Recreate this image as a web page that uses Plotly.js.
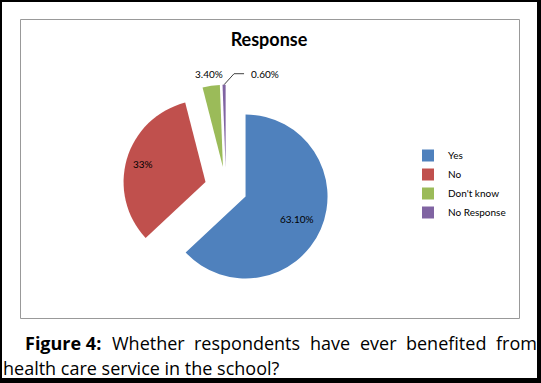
<!DOCTYPE html>
<html>
<head>
<meta charset="utf-8">
<script src="https://cdn.plot.ly/plotly-3.0.1.min.js"></script>
<style>html,body{margin:0;padding:0;background:#fff;}#chart{width:541px;height:383px;}</style>
</head>
<body>
<div id="chart"></div>
<script>
// ---- data ----
var labels = ['Yes', 'No', "Don't know", 'No Response'];
var values = [63.1, 33, 3.4, 0.6];
var pctText = ['63.10%', '33%', '3.40%', '0.60%'];
var colors = ['#4F81BD', '#C0504D', '#9BBB59', '#8064A2'];
var chartTitle = 'Response';
var captionLine1 = ['<b>Figure 4:</b>', 'Whether', 'respondents', 'have', 'ever', 'benefited', 'from'];
var captionLine2 = 'health care service in the school?';

// ---- layout helpers ----
var W = 541, H = 383;
function px(x) { return x / W; }
function py(y) { return 1 - y / H; }
var FONT = 'Lato, "Open Sans", sans-serif';
var CAPFONT = '"Open Sans", Lato, sans-serif';

var cx = 226, cy = 188, half = 103.3, pull = 0.26;
var r = half / (1 + pull);

var trace = {
  type: 'pie',
  labels: labels,
  values: values,
  text: pctText,
  textinfo: 'none',
  sort: false,
  direction: 'clockwise',
  rotation: 0,
  pull: pull,
  marker: { colors: colors, line: { width: 0 } },
  domain: { x: [px(cx - half), px(cx + half)], y: [py(cy + half), py(cy - half)] },
  hoverinfo: 'none',
  automargin: false
};

// label placement derived from the slice angles (values)
var total = values.reduce(function (a, b) { return a + b; }, 0);
var cum = 0;
var mids = values.map(function (v) { var m = (cum + v / 2) / total * 2 * Math.PI; cum += v; return m; });
function slicePoint(i, k) {
  var dx = Math.sin(mids[i]), dy = -Math.cos(mids[i]);
  return { x: cx + (pull + k) * r * dx, y: cy + (pull + k) * r * dy };
}
var labelRadius = [0.69, 0.79, 1.14, null];
var annotations = [];
[0, 1, 2].forEach(function (i) {
  var p = slicePoint(i, labelRadius[i]);
  annotations.push({ text: pctText[i], xref: 'paper', yref: 'paper', x: px(p.x), y: py(p.y),
    xanchor: 'center', yanchor: 'middle', showarrow: false,
    font: { family: FONT, size: 10, color: '#000' } });
});
// leader-line label for the tiny slice
var tip = slicePoint(3, 1.0);
var elbow = { x: tip.x + 10, y: tip.y - 11 };
var lineEnd = { x: elbow.x + 10, y: elbow.y };
annotations.push({ text: pctText[3], xref: 'paper', yref: 'paper', x: px(lineEnd.x + 5), y: py(lineEnd.y),
  xanchor: 'left', yanchor: 'middle', showarrow: false,
  font: { family: FONT, size: 10, color: '#000' } });

// caption (justified first line: one text per word)
var wordX1 = [24, 111, 193, 309, 359, 405, 495];
captionLine1.forEach(function (w, i) {
  annotations.push({ text: w, xref: 'paper', yref: 'paper', x: px(wordX1[i]), y: py(343),
    xanchor: 'left', yanchor: 'middle', showarrow: false, borderpad: 0,
    font: { family: CAPFONT, size: 18, color: '#000' } });
});
annotations.push({ text: captionLine2, xref: 'paper', yref: 'paper', x: px(2), y: py(367.5),
  xanchor: 'left', yanchor: 'middle', showarrow: false, borderpad: 0,
  font: { family: CAPFONT, size: 18, color: '#000' } });

var shapes = [
  { type: 'rect', xref: 'paper', yref: 'paper', x0: px(20.5), x1: px(519.5), y0: py(318.5), y1: py(19.5),
    line: { color: '#999', width: 1 }, fillcolor: 'rgba(0,0,0,0)', layer: 'below' },
  { type: 'path', xref: 'paper', yref: 'paper',
    path: 'M' + px(tip.x) + ',' + py(tip.y) + ' L' + px(elbow.x) + ',' + py(elbow.y) + ' L' + px(lineEnd.x) + ',' + py(lineEnd.y),
    line: { color: '#404040', width: 1 }, layer: 'above' },
  { type: 'rect', xref: 'paper', yref: 'paper', x0: 0, x1: px(2), y0: 0, y1: 1, line: { width: 0 }, fillcolor: '#000', layer: 'above' },
  { type: 'rect', xref: 'paper', yref: 'paper', x0: 0, x1: 1, y0: py(2), y1: 1, line: { width: 0 }, fillcolor: '#000', layer: 'above' },
  { type: 'rect', xref: 'paper', yref: 'paper', x0: px(537), x1: 1, y0: 0, y1: 1, line: { width: 0 }, fillcolor: '#000', layer: 'above' },
  { type: 'rect', xref: 'paper', yref: 'paper', x0: 0, x1: 1, y0: 0, y1: py(378), line: { width: 0 }, fillcolor: '#000', layer: 'above' }
];

var layout = {
  width: W, height: H,
  margin: { l: 0, r: 0, t: 0, b: 0 },
  paper_bgcolor: '#fff',
  font: { family: FONT, color: '#000' },
  title: { text: '<b>' + chartTitle + '</b>', x: px(269), xanchor: 'center', xref: 'paper',
    y: py(40), yanchor: 'middle', yref: 'paper', font: { family: FONT, size: 18, color: '#000' } },
  showlegend: true,
  legend: { x: px(408), xanchor: 'left', y: py(141), yanchor: 'top',
    font: { family: FONT, size: 10, color: '#000' }, bgcolor: 'rgba(0,0,0,0)', traceorder: 'normal' },
  annotations: annotations,
  shapes: shapes
};

Plotly.newPlot('chart', [trace], layout, { displayModeBar: false, staticPlot: true });
</script>
</body>
</html>
